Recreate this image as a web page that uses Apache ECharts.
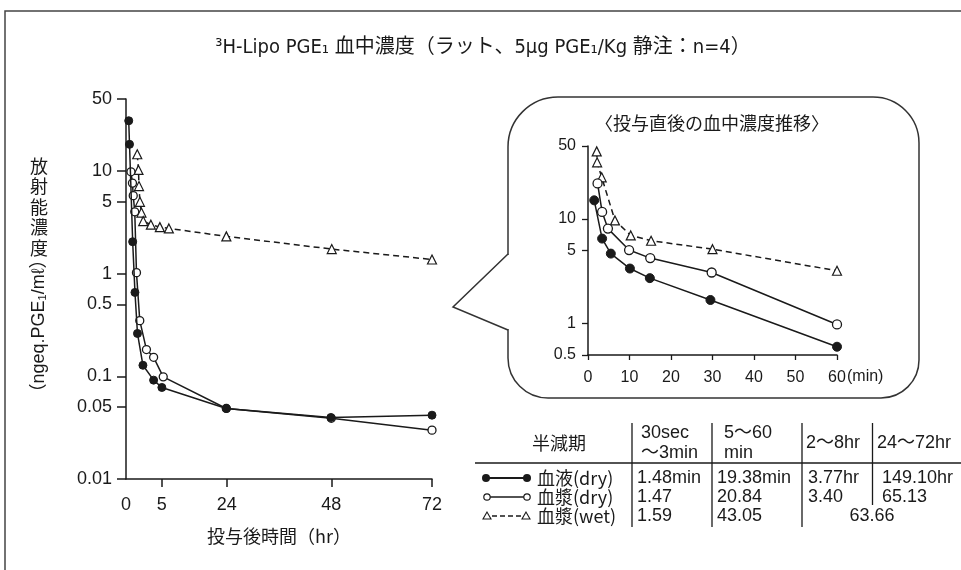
<!DOCTYPE html>
<html><head><meta charset="utf-8">
<script src="https://cdn.jsdelivr.net/npm/echarts@6/dist/echarts.min.js"></script>
<style>html,body{margin:0;padding:0;background:#fff}#c{width:961px;height:570px}</style>
</head><body><div id="c"></div>
<script>
// ---------- DATA ----------
// Main chart: time after dosing (hr), concentration (ngeq.PGE1/ml)
const bloodDryHr   = [0.38, 0.49, 0.93, 1.25, 1.6, 2.36, 3.85, 5.0, 23.9, 47.9, 72];
const bloodDryVal  = [30.7, 18.1, 2.04, 0.655, 0.261, 0.128, 0.0917, 0.0778, 0.0486, 0.0397, 0.0418];
const plasmaDryHr  = [0.69, 0.9, 1.01, 1.22, 1.46, 1.92, 2.85, 3.85, 5.4, 23.9, 48, 72];
const plasmaDryVal = [9.78, 7.59, 5.73, 3.99, 1.02, 0.348, 0.182, 0.153, 0.0987, 0.0486, 0.039, 0.0299];
const plasmaWetHr  = [1.57, 1.74, 1.81, 1.94, 2.15, 2.4, 3.47, 4.72, 7.05, 23.9, 48.1, 72];
const plasmaWetVal = [14.5, 10.2, 7.1, 4.99, 3.92, 3.24, 2.99, 2.83, 2.75, 2.30, 1.73, 1.37];

// Inset: time after dosing (min)
const inBloodDryMin  = [1.5, 3.4, 5.5, 10.1, 14.9, 29.5, 60];
const inBloodDryVal  = [15.1, 6.5, 4.67, 3.36, 2.72, 1.68, 0.60];
const inPlasmaDryMin = [2.3, 3.4, 4.8, 9.9, 15, 29.8, 60];
const inPlasmaDryVal = [21.9, 11.7, 8.1, 5.05, 4.23, 3.08, 0.98];
const inPlasmaWetMin = [2.1, 2.2, 3.3, 6.5, 10.3, 15.2, 30, 60];
const inPlasmaWetVal = [44.4, 34.9, 25.1, 9.7, 6.97, 6.2, 5.15, 3.2];

// Tick labels
const mainXTicks = [0, 5, 24, 48, 72];
const mainYTicks = [0.01, 0.05, 0.1, 0.5, 1, 5, 10, 50];
const inYTicks   = [0.5, 1, 5, 10, 50];

// Half-life table
const tableHeader = ['半減期', '30sec\n～3min', '5～60\nmin', '2～8hr', '24～72hr'];
const tableRows = [
  ['血液(dry)',  '1.48min', '19.38min', '3.77hr', '149.10hr'],
  ['血漿(dry)',  '1.47',    '20.84',    '3.40',   '65.13'],
  ['血漿(wet)',  '1.59',    '43.05',    '63.66',  '']
];
const titleText = '³H-Lipo PGE₁ 血中濃度（ラット、5μg PGE₁/Kg 静注：n=4）';

// ---------- Scale: the main time axis is drawn piecewise (expanded early part) ----------
const axisScaleAt = [0, 8.44, 23.69, 48.31, 72]; // axis units at which the hour ticks sit
function hrToAxis(h){
  for (let i = 1; i < mainXTicks.length; i++){
    if (h <= mainXTicks[i]){
      const a = mainXTicks[i-1], b = mainXTicks[i];
      return axisScaleAt[i-1] + (h - a) / (b - a) * (axisScaleAt[i] - axisScaleAt[i-1]);
    }
  }
  return axisScaleAt[axisScaleAt.length-1];
}
const zip = (xs, ys, f) => xs.map((x, i) => [f ? f(x) : x, ys[i]]);

const NUM = "'Liberation Sans','Noto Sans CJK JP',sans-serif";
const JP = "'Noto Sans CJK JP',sans-serif";
const INK = '#1a1a1a';

function baseAxisStyle(){
  return {
    axisLine:{show:true, lineStyle:{color:INK, width:1.5}},
    splitLine:{show:false},
  };
}

const filledSym = {symbol:'circle', itemStyle:{color:INK, borderColor:INK, borderWidth:1}};
const openSym = {symbol:'circle', itemStyle:{color:'#fff', borderColor:INK, borderWidth:1.3}};
const triSym = {symbol:'triangle', itemStyle:{color:'#fff', borderColor:INK, borderWidth:1.2}};

function mk(name, data, xi, sym, size, dashed, z){
  return Object.assign({
    name, type:'line', data, xAxisIndex:xi, yAxisIndex:xi,
    symbolSize:size, showSymbol:true, z,
    lineStyle:{color:INK, width:1.5, type: dashed ? [6,4] : 'solid'},
    emphasis:{disabled:true}
  }, sym);
}

// ---------- graphics (frame, titles, inset bubble, table) ----------
const g = [];
g.push({type:'polyline', shape:{points:[[5,570],[5,11],[961,11]]}, style:{stroke:'#444', lineWidth:1.5, fill:null}});
g.push({type:'text', x:483, y:48, style:{text:titleText, font:"20px 'Liberation Sans Narrow','DejaVu Sans Condensed','Noto Sans CJK JP',sans-serif", fill:INK, textAlign:'center', textVerticalAlign:'middle'}});
// y-axis name
g.push({type:'text', x:39, y:207, style:{text:'放\n射\n能\n濃\n度', font:'18px '+JP, lineHeight:20.5, fill:INK, textAlign:'center', textVerticalAlign:'middle'}});
g.push({type:'text', x:39, y:326, rotation:Math.PI/2, style:{text:'（ngeq.PGE₁/mℓ）', font:"18px 'Liberation Sans','Noto Sans CJK JP',sans-serif", fill:INK, textAlign:'center', textVerticalAlign:'middle'}});
// inset bubble: rounded box + pointer
g.push({type:'rect', shape:{x:508, y:97, width:411, height:301, r:[50,46,38,40]}, style:{fill:'none', stroke:'#333', lineWidth:1.5}});
g.push({type:'rect', shape:{x:505, y:255, width:6, height:74}, style:{fill:'#fff', stroke:null}});
g.push({type:'polyline', shape:{points:[[508,254],[453,307],[508,330]]}, style:{stroke:'#333', lineWidth:1.5, fill:null}});
g.push({type:'text', x:712, y:123, style:{text:'〈投与直後の血中濃度推移〉', font:'18px '+JP, fill:INK, textAlign:'center', textVerticalAlign:'middle'}});
g.push({type:'text', x:847, y:377, style:{text:'(min)', font:'16px '+NUM, fill:INK, textAlign:'left', textVerticalAlign:'middle'}});
// table lines
g.push({type:'line', shape:{x1:475, y1:463, x2:961, y2:463}, style:{stroke:INK, lineWidth:1.5}});
[[632,423,527],[712,423,527],[802,423,527],[872.5,423,505]].forEach(l=>{
  g.push({type:'line', shape:{x1:l[0], y1:l[1], x2:l[0], y2:l[2]}, style:{stroke:INK, lineWidth:1.3}});
});
const TF = "18px 'Liberation Sans','Noto Sans CJK JP',sans-serif";
g.push({type:'text', x:559, y:443, style:{text:tableHeader[0], font:'18px '+JP, fill:INK, textAlign:'center', textVerticalAlign:'middle'}});
const hdrX = [0, 641, 724, 806, 877];
for (let c = 1; c < 5; c++){
  g.push({type:'text', x:hdrX[c], y:443, style:{text:tableHeader[c], font:TF, lineHeight:20, fill:INK, textAlign:'left', textVerticalAlign:'middle'}});
}
const rowY = [478, 497, 516];
const colX = [537, 637, 717, 808, 882];
tableRows.forEach((r, i) => {
  r.forEach((t, c) => {
    if (!t) return;
    let x = colX[c], align = 'left';
    if (i === 2 && c === 3){ x = 872; align = 'center'; }
    g.push({type:'text', x, y:rowY[i], style:{text:t, font:(c===0? "18px 'Noto Sans CJK JP',sans-serif" : TF), fill:INK, textAlign:align, textVerticalAlign:'middle'}});
  });
});
// legend keys in table
g.push({type:'line', shape:{x1:486, y1:478, x2:527, y2:478}, style:{stroke:INK, lineWidth:2}});
g.push({type:'circle', shape:{cx:486, cy:478, r:4}, style:{fill:INK}});
g.push({type:'circle', shape:{cx:527, cy:478, r:4}, style:{fill:INK}});
g.push({type:'line', shape:{x1:490, y1:497, x2:524, y2:497}, style:{stroke:INK, lineWidth:1.3}});
g.push({type:'circle', shape:{cx:487, cy:497, r:3.2}, style:{fill:'#fff', stroke:INK, lineWidth:1.2}});
g.push({type:'circle', shape:{cx:527, cy:497, r:3.2}, style:{fill:'#fff', stroke:INK, lineWidth:1.2}});
g.push({type:'line', shape:{x1:492, y1:516, x2:522, y2:516}, style:{stroke:INK, lineWidth:1.5, lineDash:[5,3]}});
g.push({type:'polygon', shape:{points:[[487,512],[483,519],[491,519]]}, style:{fill:'#fff', stroke:INK, lineWidth:1.1}});
g.push({type:'polygon', shape:{points:[[526,512],[522,519],[530,519]]}, style:{fill:'#fff', stroke:INK, lineWidth:1.1}});

const option = {
  animation:false,
  backgroundColor:'#fff',
  grid:[
    {left:126, top:99, width:306, height:380},
    {left:588, top:146, width:249, height:209}
  ],
  xAxis:[
    Object.assign(baseAxisStyle(), {
      type:'value', gridIndex:0, min:0, max:72,
      name:'投与後時間（hr）', nameLocation:'middle', nameGap:48,
      nameTextStyle:{fontSize:18, color:INK, fontFamily:JP},
      axisTick:{show:true, customValues:axisScaleAt.slice(1), length:8, lineStyle:{color:INK, width:1.5}},
      axisLabel:{customValues:axisScaleAt, margin:17, fontSize:18, fontFamily:NUM, color:INK,
        formatter:(v)=>{ const i = axisScaleAt.findIndex(k=>Math.abs(k-v)<1e-6); return i>=0 ? String(mainXTicks[i]) : ''; }}
    }),
    Object.assign(baseAxisStyle(), {
      type:'value', gridIndex:1, min:0, max:60, interval:10,
      axisTick:{show:true, length:5, lineStyle:{color:INK, width:1.3}},
      axisLabel:{margin:15, fontSize:16, fontFamily:NUM, color:INK}
    })
  ],
  yAxis:[
    Object.assign(baseAxisStyle(), {
      type:'log', logBase:10, gridIndex:0, min:0.01, max:50,
      axisTick:{show:true, customValues:mainYTicks, length:9, lineStyle:{color:INK, width:1.5}},
      axisLabel:{customValues:mainYTicks, margin:14, fontSize:18, fontFamily:NUM, color:INK,
        formatter:(v)=>String(+(+v).toPrecision(3))}
    }),
    Object.assign(baseAxisStyle(), {
      type:'log', logBase:10, gridIndex:1, min:0.5, max:50,
      axisTick:{show:true, customValues:inYTicks, length:6, lineStyle:{color:INK, width:1.3}},
      axisLabel:{customValues:inYTicks, margin:12, fontSize:16, fontFamily:NUM, color:INK,
        formatter:(v)=>String(+(+v).toPrecision(3))}
    })
  ],
  series:[
    mk('血漿(wet)', zip(plasmaWetHr, plasmaWetVal, hrToAxis), 0, triSym, 9, true, 2),
    mk('血漿(dry)', zip(plasmaDryHr, plasmaDryVal, hrToAxis), 0, openSym, 8, false, 3),
    mk('血液(dry)', zip(bloodDryHr, bloodDryVal, hrToAxis), 0, filledSym, 8, false, 4),
    mk('血漿(wet)', zip(inPlasmaWetMin, inPlasmaWetVal), 1, triSym, 9, true, 2),
    mk('血漿(dry)', zip(inPlasmaDryMin, inPlasmaDryVal), 1, openSym, 9, false, 3),
    mk('血液(dry)', zip(inBloodDryMin, inBloodDryVal), 1, filledSym, 9, false, 4)
  ],
  graphic:{elements:g}
};
const chart = echarts.init(document.getElementById('c'), null, {renderer:'canvas'});
chart.setOption(option);
</script></body></html>
